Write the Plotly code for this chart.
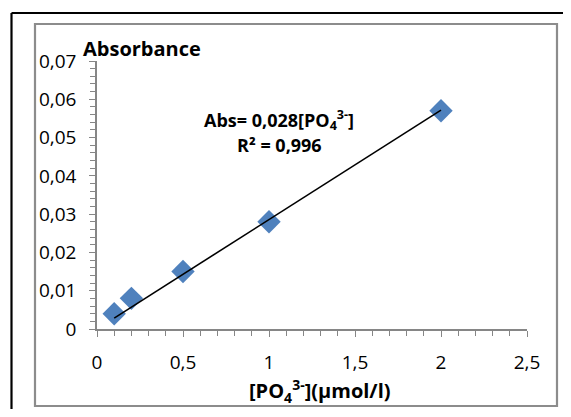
import numpy as np
import plotly.graph_objects as go

# Data
concentration = [0.1, 0.2, 0.5, 1.0, 2.0]
absorbance = [0.004, 0.008, 0.015, 0.028, 0.057]
x_ticks = [0, 0.5, 1, 1.5, 2, 2.5]
y_ticks = [0, 0.01, 0.02, 0.03, 0.04, 0.05, 0.06, 0.07]

# Trend line through origin (least squares)
xa = np.array(concentration)
ya = np.array(absorbance)
slope = float((xa * ya).sum() / (xa * xa).sum())
trend_x = [min(concentration), max(concentration)]
trend_y = [slope * v for v in trend_x]

W, H = 563, 401
OFF = 8  # page body margin offset
L, R, T, B = 97 - OFF, 527 - OFF, 61 - OFF, 329 - OFF  # plot area in figure pixels

def px(x):
    return (x - OFF - L) / (R - L)

def py(y):
    return (B - (y - OFF)) / (B - T)

FONT = "Open Sans"

fig = go.Figure()
fig.add_trace(go.Scatter(x=concentration, y=absorbance, mode="markers",
                         marker=dict(symbol="diamond", size=18, color="#4F81BD",
                                     line=dict(width=0)),
                         showlegend=False))
fig.add_trace(go.Scatter(x=trend_x, y=trend_y, mode="lines",
                         line=dict(color="black", width=1.6), showlegend=False,
                         hoverinfo="skip"))

axis_common = dict(showgrid=False, zeroline=False, showline=True,
                   linecolor="#868686", linewidth=1.5, ticks="outside",
                   ticklen=6, tickcolor="#868686", tickwidth=1.2,
                   tickfont=dict(family=FONT, size=19, color="black"))

fig.update_xaxes(range=[0, 2.5], tickvals=x_ticks, ticktext=[f"{v:g}".replace(".", ",") for v in x_ticks],
                 minor=dict(dtick=0.1, ticks="outside", ticklen=5, tickcolor="#868686", tickwidth=1.2),
                 ticklabelstandoff=9, **axis_common)
fig.update_yaxes(range=[0, 0.07], tickvals=y_ticks, ticktext=[f"{v:g}".replace(".", ",") for v in y_ticks],
                 minor=dict(dtick=0.002, ticks="outside", ticklen=5, tickcolor="#868686", tickwidth=1.2),
                 ticklabelstandoff=9, **axis_common)

shapes = [
    # outer black border (left and top visible)
    dict(type="line", xref="paper", yref="paper", x0=px(11.5), x1=px(11.5), y0=py(13), y1=py(440),
         line=dict(color="black", width=2.2)),
    dict(type="line", xref="paper", yref="paper", x0=px(11.5), x1=px(600), y0=py(13), y1=py(13),
         line=dict(color="black", width=2.2)),
    # inner gray frame
    dict(type="rect", xref="paper", yref="paper", x0=px(35), x1=px(557), y0=py(24), y1=py(406),
         line=dict(color="#8C8C8C", width=2.2)),
]

annotations = [
    dict(text="<b>Absorbance</b>", xref="paper", yref="paper", x=px(81), y=py(48),
         xanchor="left", yanchor="middle", showarrow=False,
         font=dict(family=FONT, size=20, color="black")),
    dict(text="<b>Abs= 0,028[PO<sub>4</sub><sup>3-</sup>]</b>", xref="paper", yref="paper",
         x=px(279), y=py(120), xanchor="center", yanchor="middle", showarrow=False,
         font=dict(family=FONT, size=18, color="black")),
    dict(text="<b>R² = 0,996</b>", xref="paper", yref="paper",
         x=px(279), y=py(145), xanchor="center", yanchor="middle", showarrow=False,
         font=dict(family=FONT, size=18, color="black")),
    dict(text="<b>[PO<sub>4</sub><sup>3-</sup>](µmol/l)</b>", xref="paper", yref="paper",
         x=px(320), y=py(391), xanchor="center", yanchor="middle", showarrow=False,
         font=dict(family=FONT, size=20, color="black")),
]

fig.update_layout(width=W, height=H, margin=dict(l=L, r=W - R, t=T, b=H - B),
                  paper_bgcolor="white", plot_bgcolor="white",
                  shapes=shapes, annotations=annotations, separators=",.")

fig.write_html("out.html")
